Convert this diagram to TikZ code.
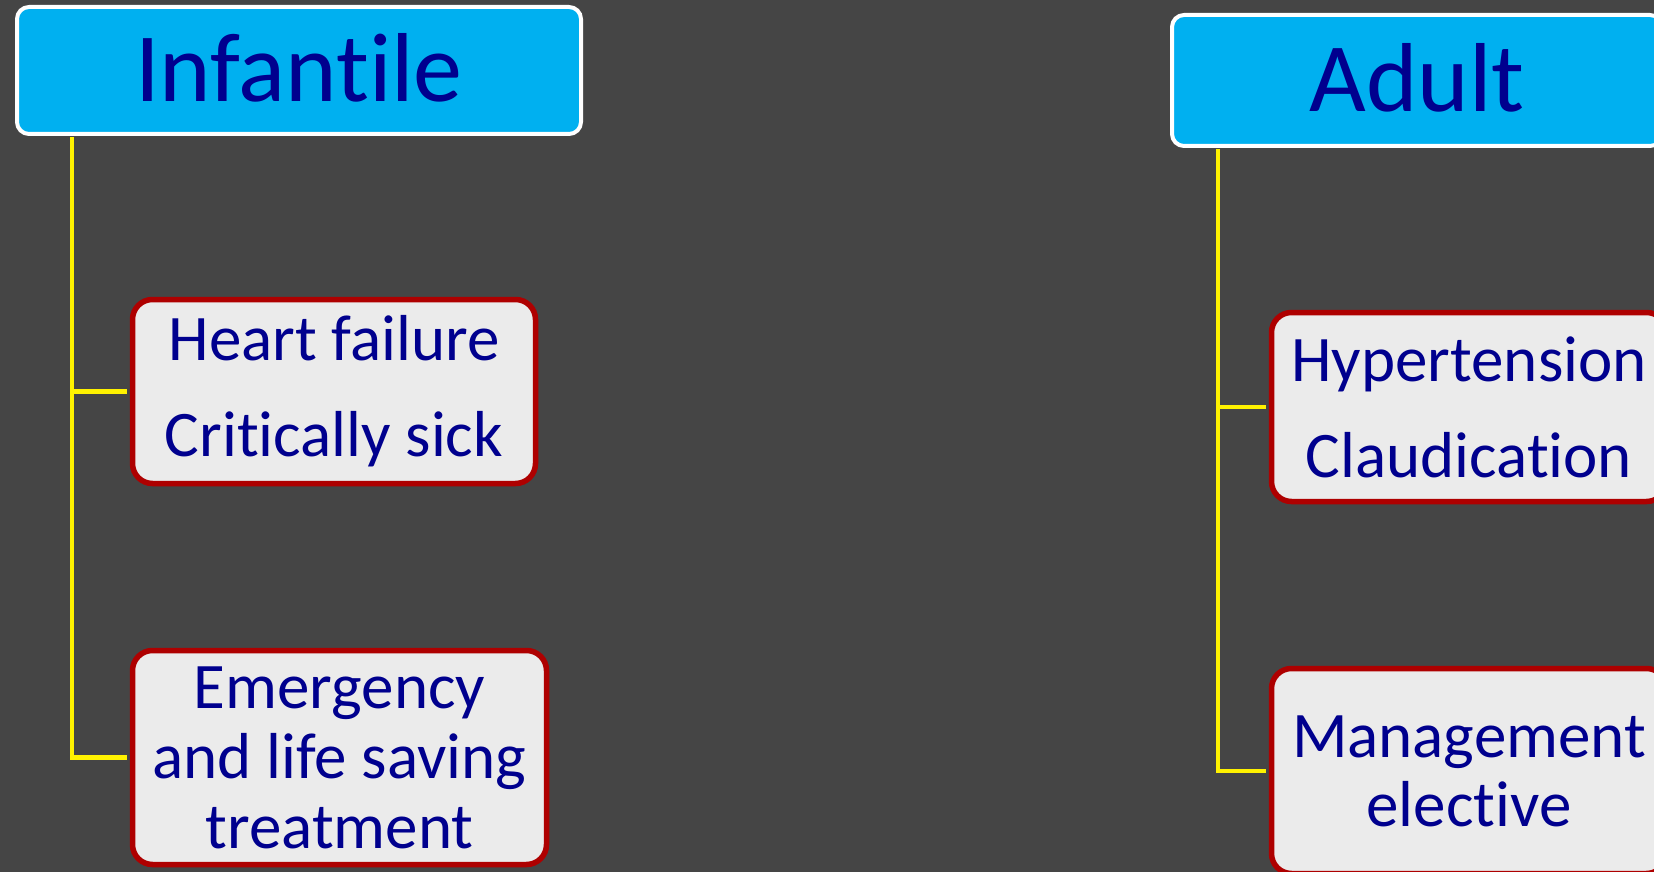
\documentclass[tikz,border=0pt]{standalone}
\usepackage{fontspec}
\setmainfont{Carlito}[Ligatures=NoCommon]
\usetikzlibrary{positioning}
\definecolor{slate}{HTML}{454545}
\definecolor{headblue}{HTML}{00B0F0}
\definecolor{inknavy}{HTML}{00008E}
\definecolor{paleg}{HTML}{EBEBEB}
\definecolor{darkred}{HTML}{AE0000}

\begin{document}
\begin{tikzpicture}[x=1pt,y=-1pt,
  every node/.style={align=center,inner sep=0pt,text=inknavy},
  agebox/.style={rectangle,rounded corners=12pt,fill=headblue,draw=white,line width=4pt,
    text depth=7pt,font=\fontsize{98}{110}\selectfont},
  casebox/.style={rectangle,rounded corners=20pt,fill=paleg,draw=darkred,line width=5.5pt},
  branch/.style={draw=yellow,line width=4.5pt,shorten >=2.5pt}
]
  \fill[slate] (0,0) rectangle (1654,872);
  \useasboundingbox (0,0) rectangle (1654,872);

  \node[agebox,minimum width=564pt,minimum height=127pt] (infant) at (299,70.5) {Infantile};
  \node[agebox,minimum width=490pt,minimum height=131pt] (adult) at (1417,80.5) {Adult};

  \node[casebox,minimum width=403pt,minimum height=184pt,
    font=\fontsize{65}{96}\selectfont] (heart) at (334,391.5) {Heart failure\\Critically sick};
  \node[casebox,minimum width=414pt,minimum height=214pt,
    font=\fontsize{65}{70}\selectfont] (emerg) at (339.5,757.5) {Emergency\\and life saving\\treatment};
  \node[casebox,minimum width=395pt,minimum height=189pt,
    font=\fontsize{65}{96}\selectfont] (hyper) at (1469,407) {Hypertension\\Claudication};
  \node[casebox,minimum width=395pt,minimum height=205pt,
    font=\fontsize{65}{69}\selectfont] (manage) at (1469,771) {Management\\elective};

  \draw[branch] ([xshift=57pt,yshift=-1.5pt]infant.south west) |- (heart.west);
  \draw[branch] ([xshift=57pt,yshift=-1.5pt]infant.south west) |- (emerg.west);
  \draw[branch] ([xshift=48pt,yshift=-1.5pt]adult.south west) |- (hyper.west);
  \draw[branch] ([xshift=48pt,yshift=-1.5pt]adult.south west) |- (manage.west);
\end{tikzpicture}
\end{document}
